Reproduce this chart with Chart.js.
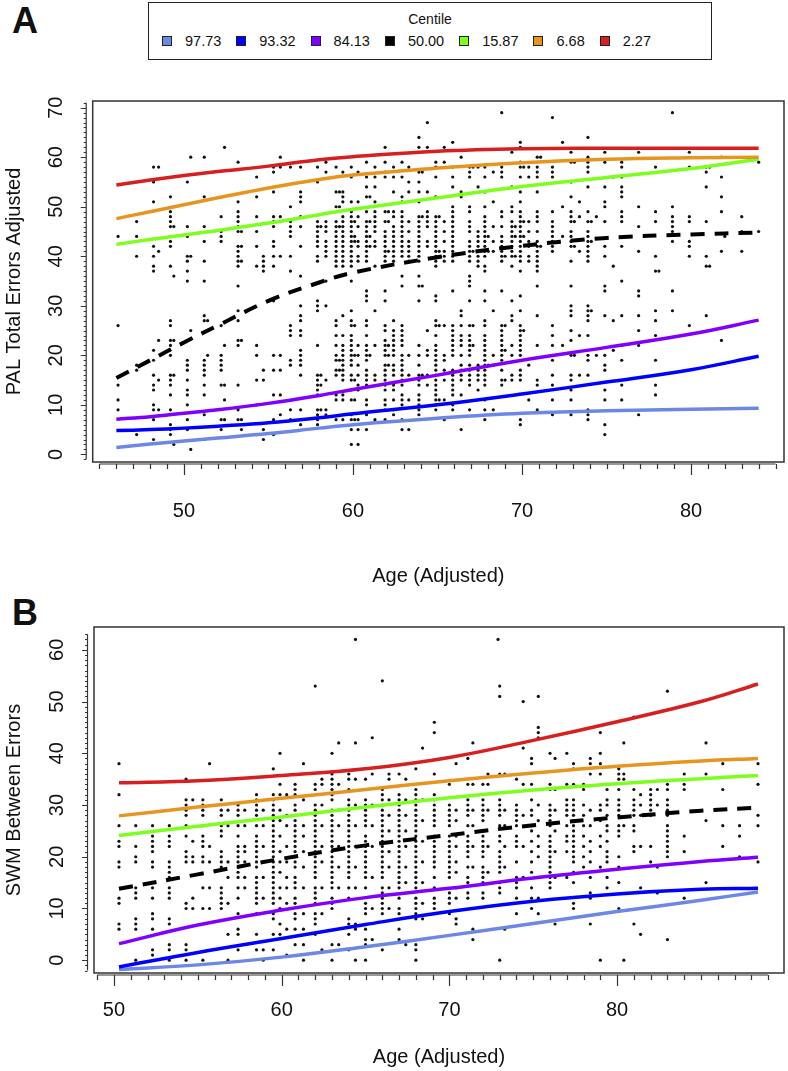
<!DOCTYPE html>
<html>
<head>
<meta charset="utf-8">
<script src="https://cdn.jsdelivr.net/npm/chart.js@4.4.1/dist/chart.umd.min.js"></script>
<style>
  body { margin: 0; background: #fff; font-family: "Liberation Sans", Arial, sans-serif; color: #111; }
  #page { position: relative; width: 788px; height: 1071px; overflow: hidden; }
  .tag { position: absolute; left: 12px; font-weight: bold; font-size: 36px; line-height: 36px; }
  #legend { position: absolute; left: 148px; top: 2px; width: 562px; height: 56px; border: 1.5px solid #222; }
  #legend .ltitle { text-align: center; font-size: 14px; margin-top: 8px; }
  #legend .items { display: flex; margin: 6px 0 0 13px; font-size: 14.5px; align-items: center; }
  #legend .item { display: flex; align-items: center; margin-right: 15px; }
  #legend .sw { width: 8px; height: 8px; border: 1px solid #222; margin-right: 13px; }
  canvas { position: absolute; left: 0; }
</style>
</head>
<body>
<div id="page">
  <div class="tag" style="top:3px">A</div>
  <div id="legend">
    <div class="ltitle">Centile</div>
    <div class="items" id="legend-items"></div>
  </div>
  <canvas id="chartA" style="top:64px" width="788" height="526"></canvas>
  <div class="tag" style="top:595px">B</div>
  <canvas id="chartB" style="top:590px" width="788" height="481"></canvas>
</div>
<script>
// centiles (legend order)
const centileLabels = ["97.73", "93.32", "84.13", "50.00", "15.87", "6.68", "2.27"];
const centileColors = ["#6d87e6", "#0000ff", "#7f00ff", "#000000", "#7cff1f", "#e6951f", "#d71f1f"];

// panel A curves
const curveAgeA = [46, 48, 50, 52, 55, 58, 60, 65, 70, 75, 80, 84];
const curvesA = [
  [1.4, 2.1, 2.7, 3.3, 4.2, 5.3, 6.0, 7.3, 8.3, 8.8, 9.1, 9.3],
  [4.8, 5.0, 5.3, 5.7, 6.4, 7.4, 8.2, 10.0, 12.2, 14.6, 17.1, 19.8],
  [7.1, 7.6, 8.3, 9.0, 10.3, 11.9, 13.1, 16.0, 19.0, 21.6, 24.3, 27.1],
  [15.4, 19.0, 22.6, 26.0, 31.0, 34.7, 36.7, 39.8, 42.1, 43.7, 44.4, 44.8],
  [42.4, 43.4, 44.3, 45.2, 46.7, 48.4, 49.5, 51.8, 54.1, 55.9, 57.7, 59.6],
  [47.6, 49.0, 50.4, 51.8, 53.8, 55.5, 56.4, 57.8, 58.9, 59.6, 59.9, 60.0],
  [54.4, 55.4, 56.3, 57.1, 58.2, 59.5, 60.1, 61.2, 61.7, 61.8, 61.8, 61.8]
];

// panel B curves
const curveAgeB = [50.3, 55, 60, 65, 70, 75, 80, 85, 88.4];
const curvesB = [
  [-1.8, -0.9, 0.6, 2.6, 4.8, 7.1, 9.4, 11.6, 13.2],
  [-1.3, 1.5, 4.2, 6.9, 9.4, 11.4, 12.8, 13.7, 13.9],
  [3.2, 6.8, 9.7, 12.1, 13.9, 15.9, 17.6, 19.1, 19.9],
  [13.8, 16.6, 19.6, 22.2, 24.2, 26.1, 27.6, 28.9, 29.5],
  [24.1, 25.9, 27.7, 29.6, 31.4, 32.9, 34.1, 35.1, 35.7],
  [27.9, 29.6, 31.3, 33.0, 34.7, 36.2, 37.5, 38.5, 39.0],
  [34.3, 34.7, 35.7, 37.0, 39.2, 42.5, 46.1, 50.0, 53.4]
];

// observations: [age, [scores at that age]]
const pointsA = [
  [46.1, [44, 26, 14, 11, 9]], [47.2, [47, 44, 40, 18, 17, 4]],
  [48.2, [58, 55, 51, 42, 40, 38, 37, 21, 19, 16, 14, 13, 10, 9, 7, 3]], [48.5, [58, 41, 23, 15, 9]],
  [49.2, [52, 49, 48, 47, 46, 43, 42, 38, 27, 26, 23, 22, 20, 16, 15, 14, 12, 9, 6, 5, 4]], [49.4, [46, 36, 23, 16, 2]],
  [50.2, [55, 46, 44, 40, 39, 37, 35, 19, 18, 17, 15, 13, 12, 10, 7, 5]], [50.4, [60, 40, 25, 1]],
  [51.2, [60, 52, 46, 43, 39, 35, 28, 27, 19, 18, 17, 16, 14, 12, 8, 3]], [51.4, [27, 20]],
  [52.2, [48, 45, 44, 43, 26, 20, 19, 18, 17, 14, 7, 5]], [52.4, [62, 22, 14, 11, 7]],
  [53.2, [59, 51, 49, 48, 47, 46, 45, 42, 41, 40, 39, 38, 34, 29, 27, 23, 22, 14, 9, 7]], [53.4, [45, 42, 39, 23, 7, 5]],
  [54.3, [56, 52, 48, 45, 42, 38, 22, 20, 15, 10, 4]], [54.7, [40, 39, 38, 37, 17, 15, 5, 3]],
  [55.3, [58, 57, 53, 48, 47, 46, 43, 42, 40, 38, 31, 20, 17, 12, 7, 4]], [55.7, [60, 58, 48, 47, 40, 20, 17, 12, 8]],
  [56.3, [58, 50, 47, 46, 45, 44, 40, 37, 26, 25, 24, 19, 18, 9, 7]],
  [56.9, [58, 53, 52, 51, 48, 46, 42, 36, 30, 28, 27, 25, 24, 21, 20, 19, 18, 16, 9, 6]],
  [57.9, [58, 55, 47, 46, 45, 44, 43, 42, 40, 39, 31, 30, 29, 22, 16, 15, 14, 13, 12, 9, 8, 7, 6]], [58.1, [46, 16, 14, 9]],
  [58.4, [59, 57, 47, 46, 45, 43, 42, 41, 40, 35, 30, 15, 9, 8]],
  [59.0, [58, 53, 50, 47, 46, 45, 44, 43, 42, 41, 40, 39, 38, 27, 26, 24, 22, 20, 19, 17, 16, 12, 11, 7]], [59.2, [53, 50, 46, 19, 17]],
  [59.4, [57, 53, 52, 51, 48, 47, 46, 45, 44, 43, 42, 41, 40, 39, 38, 28, 24, 22, 21, 20, 19, 18, 17, 16, 15, 12, 11, 7]],
  [59.9, [58, 56, 51, 49, 48, 47, 46, 45, 44, 43, 42, 41, 40, 39, 38, 35, 29, 27, 26, 24, 23, 22, 21, 20, 19, 18, 16, 15, 13, 11, 8, 7, 5, 2]],
  [60.1, [47, 44, 43, 26, 20, 15, 11, 7]],
  [60.3, [57, 51, 48, 46, 43, 42, 40, 39, 22, 20, 18, 16, 14, 13, 7, 5, 2]],
  [60.8, [59, 56, 54, 52, 49, 47, 46, 45, 44, 43, 42, 41, 40, 39, 33, 32, 31, 27, 26, 24, 22, 21, 20, 19, 17, 16, 15, 14, 11, 10, 8, 5]],
  [61.0, [52, 47, 44, 42, 20]],
  [61.3, [58, 56, 54, 51, 49, 48, 47, 46, 45, 43, 42, 38, 29, 22, 16, 15, 7]],
  [61.9, [62, 59, 57, 56, 49, 47, 45, 44, 43, 42, 41, 40, 39, 33, 31, 26, 25, 23, 22, 21, 20, 18, 17, 16, 15, 14, 13, 11, 10, 9, 7]],
  [62.1, [49, 47, 41, 22, 20, 18]],
  [62.4, [58, 56, 53, 49, 48, 46, 45, 44, 43, 42, 41, 40, 39, 27, 25, 24, 23, 22, 21, 20, 18, 17, 16, 14, 13, 11, 9, 8]],
  [62.9, [59, 56, 52, 51, 49, 48, 47, 46, 45, 44, 43, 42, 41, 40, 36, 34, 26, 25, 24, 23, 22, 20, 19, 18, 17, 16, 15, 14, 12, 11, 10, 7, 5]],
  [63.3, [58, 55, 53, 47, 45, 43, 42, 41, 40, 39, 20, 16, 11, 5]],
  [63.9, [64, 62, 57, 55, 53, 51, 48, 47, 46, 45, 44, 43, 42, 41, 40, 39, 36, 34, 31, 22, 20, 18, 16, 15, 14, 12, 11, 10, 9, 8]],
  [64.1, [57, 48, 34, 16]],
  [64.4, [67, 62, 53, 49, 48, 47, 46, 43, 42, 25, 21, 20, 16, 14]],
  [64.9, [59, 58, 56, 52, 48, 47, 46, 45, 44, 43, 42, 41, 40, 39, 38, 32, 31, 27, 26, 24, 22, 21, 20, 19, 18, 17, 16, 15, 14, 13, 12, 11, 10, 9]],
  [65.1, [48, 41, 26, 11]],
  [65.4, [62, 59, 47, 45, 43, 41, 40, 39, 26, 20, 19, 17, 15, 11, 7]],
  [65.9, [63, 58, 56, 54, 50, 49, 48, 47, 46, 45, 44, 43, 42, 41, 40, 39, 33, 26, 25, 24, 23, 22, 21, 20, 17, 16, 15, 14, 13, 12, 10, 9]],
  [66.4, [60, 53, 52, 29, 28, 26, 24, 23, 22, 20, 18, 17, 16, 15, 12, 5]],
  [66.9, [58, 57, 56, 50, 49, 47, 46, 45, 43, 42, 41, 40, 39, 36, 35, 34, 31, 26, 24, 23, 22, 21, 20, 18, 17, 16, 15, 14, 9]],
  [67.1, [58, 41, 26, 22]],
  [67.4, [58, 54, 45, 44, 43, 42, 41, 40, 39, 38, 18, 17, 16, 15, 13]],
  [67.8, [58, 56, 53, 50, 48, 47, 46, 45, 44, 43, 42, 41, 40, 38, 37, 33, 31, 27, 26, 24, 23, 22, 21, 20, 19, 18, 17, 16, 15, 14, 11, 9, 7]],
  [68.0, [44, 41, 18]],
  [68.3, [57, 51, 46, 43, 41, 29, 20, 18, 9]],
  [68.8, [69, 58, 57, 56, 49, 48, 46, 44, 43, 42, 41, 40, 39, 33, 26, 25, 24, 23, 22, 21, 20, 19, 17, 15, 14]],
  [69.0, [40, 26, 21, 15]],
  [69.4, [61, 54, 50, 49, 47, 46, 45, 44, 43, 42, 41, 40, 38, 31, 28, 27, 22, 20, 16, 15]],
  [69.6, [46, 44, 40]],
  [69.9, [63, 62, 59, 58, 56, 53, 51, 49, 48, 47, 46, 45, 44, 43, 42, 41, 40, 39, 37, 32, 29, 26, 25, 24, 23, 22, 21, 20, 17, 16, 15, 7, 6]],
  [70.1, [58, 47, 44, 25]],
  [70.4, [58, 56, 47, 45, 43, 42, 40, 39, 18, 11]],
  [70.9, [60, 58, 57, 56, 53, 49, 48, 47, 45, 43, 42, 41, 40, 39, 38, 37, 34, 28, 22, 15, 14, 9]],
  [71.1, [60, 42]],
  [71.8, [68, 58, 57, 56, 49, 47, 46, 45, 44, 43, 42, 41, 26, 24, 22, 19, 16, 14, 11, 8]],
  [72.4, [63, 50, 44, 22]],
  [72.9, [61, 59, 55, 52, 49, 48, 47, 45, 44, 43, 42, 39, 34, 30, 29, 28, 25, 23, 20, 16, 15, 13, 11, 8]],
  [73.1, [59, 47, 42, 20]], [73.4, [51, 48, 41, 24, 16]],
  [73.9, [64, 60, 59, 58, 57, 54, 49, 47, 45, 44, 43, 42, 41, 40, 39, 30, 29, 28, 27, 24, 20, 19, 16, 9, 8, 7]],
  [74.1, [47, 43, 29]], [74.4, [48, 20]],
  [74.9, [61, 59, 54, 51, 50, 47, 42, 40, 34, 33, 28, 20, 18, 17, 13, 11, 6, 4]],
  [75.4, [56, 38, 27, 21]],
  [75.9, [59, 58, 56, 54, 53, 52, 49, 48, 47, 42, 35, 28, 22, 19, 14, 11]],
  [76.9, [61, 50, 46, 41, 33, 32, 28, 25, 22, 8]],
  [77.9, [58, 49, 47, 40, 37, 29, 27, 24, 19, 14, 12]], [78.1, [37]],
  [78.9, [69, 50, 48, 47, 46, 45, 43, 33, 29]],
  [79.9, [61, 58, 48, 47, 43, 42, 40, 26]],
  [80.9, [58, 57, 54, 47, 40, 38, 28]], [81.1, [58, 38]],
  [81.8, [60, 56, 52, 49, 41, 23]], [82.0, [44]],
  [83.0, [48, 45, 41]], [84.0, [59, 45]]
];

const pointsB = [
  [50.3, [38, 32, 26, 23, 22, 19, 18, 12, 11, 7, 6]],
  [51.3, [26, 22, 20, 19, 14, 13, 12, 8, 7, 6, 0]],
  [52.3, [26, 24, 23, 22, 21, 19, 18, 14, 12, 9, 8, 6, 2, 1]],
  [53.3, [26, 24, 23, 22, 19, 18, 17, 16, 14, 13, 12, 8, 7, 3, 2, 0]],
  [54.3, [35, 31, 30, 29, 28, 26, 24, 21, 20, 19, 11, 10, 3, 2, 0]], [54.7, [31, 23, 20, 19, 12, 10]],
  [55.3, [31, 30, 29, 28, 26, 24, 23, 22, 20, 19, 14, 10, 0]], [55.7, [38, 22, 19, 14, 10]],
  [56.4, [31, 29, 28, 26, 25, 24, 21, 20, 19, 18, 14, 13, 12, 11, 10]], [56.8, [29, 26, 19, 16, 11, 5, 0]],
  [57.4, [30, 29, 28, 26, 24, 22, 21, 20, 19, 18, 17, 16, 14, 12, 9, 6, 5, 2]], [57.8, [29, 26, 22, 21, 19, 16, 14]],
  [58.5, [32, 31, 30, 29, 28, 26, 24, 23, 22, 21, 20, 19, 18, 16, 15, 14, 13, 12, 11, 9, 5, 2]], [58.9, [29, 26, 22, 16, 12, 2, 0]],
  [59.5, [37, 32, 31, 30, 29, 28, 27, 26, 25, 24, 23, 22, 21, 20, 19, 18, 17, 16, 15, 14, 13, 12, 11, 9, 8, 5, 2]],
  [59.9, [40, 34, 32, 29, 27, 24, 21, 19, 17, 14, 12, 10, 7, 5]],
  [60.3, [32, 28, 26, 22, 19, 16, 14, 11, 6, 1]],
  [60.8, [34, 33, 32, 30, 29, 28, 27, 26, 25, 24, 23, 22, 21, 20, 19, 18, 16, 15, 14, 12, 11, 9, 8, 6, 3]],
  [61.3, [38, 31, 26, 24, 21, 18, 14, 9, 6, 3, 0]],
  [62.0, [53, 34, 33, 30, 29, 28, 27, 26, 25, 24, 23, 22, 21, 20, 19, 18, 17, 16, 14, 13, 12, 11, 9, 8, 7, 5]],
  [62.4, [35, 34, 30, 26, 22, 19, 14, 9, 2]],
  [63.0, [40, 36, 35, 34, 33, 32, 31, 29, 28, 27, 26, 25, 24, 23, 22, 21, 20, 19, 18, 17, 16, 15, 14, 12, 11, 10, 3, 0]],
  [63.4, [42, 34, 29, 26, 22, 18, 14, 3]],
  [64.0, [36, 35, 33, 31, 30, 29, 28, 27, 26, 25, 24, 23, 22, 21, 20, 19, 18, 17, 16, 14, 12, 8, 7, 5, 2]],
  [64.4, [62, 42, 35, 30, 26, 22, 18, 14, 7, 6, 0]],
  [65.0, [35, 33, 31, 30, 29, 28, 27, 26, 24, 23, 22, 21, 20, 19, 18, 17, 16, 14, 11, 10, 9, 6, 4, 3, 0]],
  [65.4, [43, 36, 30, 26, 22, 16, 10, 4]],
  [66.0, [54, 33, 32, 31, 30, 29, 28, 27, 26, 25, 24, 23, 22, 21, 20, 19, 18, 17, 16, 14, 13, 12, 11, 10, 9, 2]],
  [66.4, [36, 35, 31, 28, 25, 21, 18, 14, 10]],
  [67.0, [36, 32, 31, 30, 29, 28, 27, 26, 25, 24, 23, 22, 21, 20, 19, 18, 17, 16, 15, 14, 12, 10, 9, 6, 4]],
  [67.4, [35, 31, 28, 25, 22, 18, 15, 3]],
  [68.0, [37, 33, 32, 31, 30, 29, 28, 27, 26, 25, 24, 23, 22, 21, 20, 19, 18, 17, 16, 15, 14, 12, 11, 10, 9, 8, 3, 2, 0]],
  [68.4, [41, 31, 27, 23, 19, 15, 11, 8]],
  [69.1, [46, 44, 36, 32, 31, 30, 29, 28, 27, 26, 24, 23, 22, 21, 20, 19, 18, 16, 14, 12, 11, 10, 9]],
  [70.0, [34, 30, 29, 28, 27, 26, 24, 23, 22, 21, 20, 19, 18, 17, 16, 13, 12, 11, 9]],
  [70.4, [38, 29, 27, 24, 22, 19, 17, 14, 12, 8, 7]],
  [71.1, [39, 34, 31, 30, 29, 28, 26, 24, 23, 22, 21, 20, 18, 16, 15, 13, 12]],
  [71.4, [42, 34, 29, 26, 22, 18, 6, 4]],
  [72.0, [34, 31, 30, 29, 28, 27, 24, 23, 22, 21, 20, 18, 17, 16, 15, 13, 12]],
  [72.3, [36, 34, 29, 22, 17]], [72.9, [62]],
  [73.0, [53, 51, 36, 31, 30, 29, 28, 26, 24, 23, 21, 20, 19, 18, 17, 15, 14, 13, 0]],
  [73.3, [36, 29, 26, 22, 18, 6]],
  [74.0, [35, 30, 29, 28, 27, 26, 24, 23, 22, 19, 16, 15, 14, 12, 9]],
  [74.4, [50, 41, 34, 28, 22, 16]],
  [74.9, [39, 38, 34, 31, 29, 28, 26, 25, 23, 21, 19, 17, 14, 12, 10]],
  [75.3, [51, 45, 44, 43, 30, 27, 24, 22, 20, 16, 12, 9]],
  [76.0, [40, 34, 33, 30, 29, 28, 27, 26, 24, 23, 22, 21, 20, 19, 18, 17, 16, 15, 14]],
  [76.3, [39, 33, 29, 25, 21, 16, 7]],
  [77.0, [40, 34, 31, 30, 29, 28, 26, 24, 23, 21, 16]],
  [77.4, [38, 37, 34, 31, 30, 29, 28, 27, 26, 25, 24, 23, 22, 21, 20, 19, 17, 15, 11, 10]],
  [78.0, [34, 33, 30, 28, 26, 24, 22, 20, 18]],
  [78.4, [39, 38, 36, 29, 26, 23, 21, 19, 16, 13, 12, 7]],
  [79.0, [44, 40, 38, 36, 30, 29, 27, 24, 22, 18, 0]],
  [79.4, [34, 33, 31, 30, 28, 26, 25, 23, 21, 20, 19, 16, 14]],
  [80.1, [37, 36, 35, 33, 31, 30, 29, 28, 26, 25, 24, 20, 18, 15, 10]],
  [80.4, [42, 36, 35, 26, 0]],
  [81.0, [47, 33, 31, 30, 29, 28, 26, 25, 22, 21, 7]], [81.4, [32, 30, 28, 22, 14, 5]],
  [82.0, [33, 32, 31, 30, 29, 28, 22, 19]], [82.4, [33, 30, 18, 13]],
  [83.0, [52, 34, 33, 31, 30, 29, 28, 26, 25, 24, 23, 22, 21, 20, 4]],
  [84.0, [36, 34, 33, 24, 21, 12]], [85.3, [42, 36, 27, 15]],
  [86.3, [38, 33, 26, 22]], [87.3, [26, 24, 20]], [88.4, [38, 34, 28, 26, 19]]
];

// axis tick values
const xTicksA = [50, 60, 70, 80];
const yTicksA = [0, 10, 20, 30, 40, 50, 60, 70];
const xTicksB = [50, 60, 70, 80];
const yTicksB = [0, 10, 20, 30, 40, 50, 60];

const FONT = "'Liberation Sans', Arial, sans-serif";

// legend (html, R style box)
const legendBox = document.getElementById("legend-items");
centileLabels.forEach((lab, i) => {
  const it = document.createElement("div");
  it.className = "item";
  it.innerHTML = `<div class="sw" style="background:${centileColors[i]}"></div><span>${lab}</span>`;
  legendBox.appendChild(it);
});

// box + offset axes with minor ticks, like base R
const rAxes = {
  id: "rAxes",
  afterDraw(chart, args, o) {
    const { ctx, chartArea: a, scales: { x, y } } = chart;
    ctx.save();
    ctx.strokeStyle = "#333";
    ctx.lineWidth = 1.5;
    ctx.strokeRect(a.left, a.top, a.right - a.left, a.bottom - a.top);

    ctx.lineWidth = 1.2;
    ctx.beginPath();
    const ay = a.bottom + o.xGap;
    ctx.moveTo(x.getPixelForValue(o.xRange[0]), ay);
    ctx.lineTo(x.getPixelForValue(o.xRange[1]), ay);
    for (let v = o.xRange[0]; v <= o.xRange[1]; v++) {
      const px = Math.round(x.getPixelForValue(v)) + 0.5;
      ctx.moveTo(px, ay);
      ctx.lineTo(px, ay + (v % 10 === 0 ? 11 : 5));
    }
    const ax = a.left - o.yGap;
    ctx.moveTo(ax, y.getPixelForValue(o.yRange[0]));
    ctx.lineTo(ax, y.getPixelForValue(o.yRange[1]));
    for (let v = o.yRange[0]; v <= o.yRange[1]; v++) {
      const py = Math.round(y.getPixelForValue(v)) + 0.5;
      ctx.moveTo(ax, py);
      ctx.lineTo(ax - (v % 10 === 0 ? 5.5 : 2.5), py);
    }
    ctx.stroke();
    ctx.restore();
  }
};

function makePanel(id, p) {
  const datasets = p.curves.map((vals, i) => ({
    label: centileLabels[i],
    data: p.ages.map((age, j) => ({ x: age, y: vals[j] })),
    showLine: true,
    borderColor: centileColors[i],
    borderWidth: i === 3 ? 4 : 3.5,
    borderDash: i === 3 ? [14, 10] : [],
    pointRadius: 0,
    tension: 0.4,
    order: 7 - i
  }));
  datasets.push({
    label: "obs",
    data: p.points.flatMap(([age, ys]) => ys.map((v) => ({ x: age, y: v }))),
    pointRadius: 1.6,
    pointBackgroundColor: "#111",
    pointBorderWidth: 0,
    order: 20
  });

  return new Chart(document.getElementById(id), {
    type: "scatter",
    data: { datasets },
    options: {
      responsive: false,
      animation: false,
      layout: { padding: p.padding },
      plugins: {
        legend: { display: false },
        tooltip: { enabled: false },
        rAxes: p.axes
      },
      scales: {
        x: {
          type: "linear",
          min: p.xMin, max: p.xMax,
          afterBuildTicks: (s) => { s.ticks = p.xTicks.map((v) => ({ value: v })); },
          afterFit: (s) => { s.height = p.xHeight; },
          grid: { display: false, drawTicks: false },
          border: { display: false },
          ticks: { color: "#111", font: { family: FONT, size: 20 }, padding: p.xLabelPad, maxRotation: 0 },
          title: { display: true, text: "Age (Adjusted)", color: "#111", font: { family: FONT, size: 20 }, padding: { top: 0, bottom: 2 } }
        },
        y: {
          type: "linear",
          min: p.yMin, max: p.yMax,
          afterBuildTicks: (s) => { s.ticks = p.yTicks.map((v) => ({ value: v })); },
          afterFit: (s) => { s.width = p.yWidth; },
          grid: { display: false, drawTicks: false },
          border: { display: false },
          ticks: { color: "#111", font: { family: FONT, size: 20 }, padding: 25, minRotation: 90, maxRotation: 90, crossAlign: "center" },
          title: { display: true, text: p.yTitle, color: "#111", font: { family: FONT, size: 20 }, padding: { top: 2, bottom: 0 } }
        }
      }
    },
    plugins: [rAxes]
  });
}

makePanel("chartA", {
  ages: curveAgeA, curves: curvesA, points: pointsA,
  xMin: 44.6, xMax: 85.5, yMin: -1.54, yMax: 71.35,
  xTicks: xTicksA, yTicks: yTicksA,
  xHeight: 128, yWidth: 92.7, xLabelPad: 37,
  padding: { top: 20, right: 4, left: 0, bottom: 0 },
  yTitle: "PAL Total Errors Adjusted",
  axes: { xRange: [45, 85], yRange: [-1, 71], xGap: 2, yGap: 6.5 }
});

makePanel("chartB", {
  ages: curveAgeB, curves: curvesB, points: pointsB,
  xMin: 48.81, xMax: 89.95, yMin: -2.47, yMax: 64.41,
  xTicks: xTicksB, yTicks: yTicksB,
  xHeight: 98, yWidth: 94, xLabelPad: 25,
  padding: { top: 4, right: 2, left: 0, bottom: 0 },
  yTitle: "SWM Between Errors",
  axes: { xRange: [49, 89], yRange: [-2, 63], xGap: 2, yGap: 6.5 }
});
</script>
</body>
</html>
